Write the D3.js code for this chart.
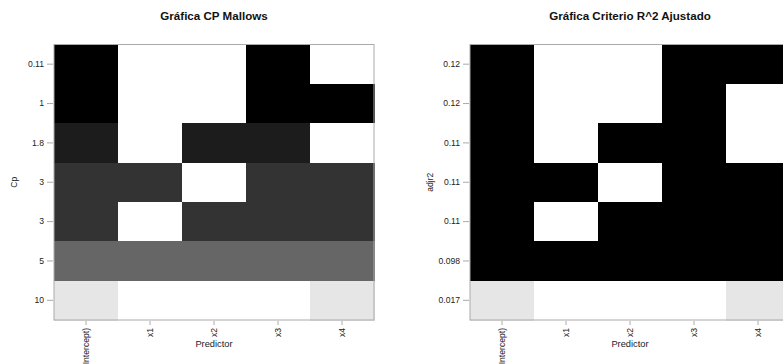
<!DOCTYPE html>
<html>
<head>
<meta charset="utf-8">
<script src="https://cdn.jsdelivr.net/npm/d3@7"></script>
<style>
  body { margin: 0; background: #fff; }
  svg { font-family: "Liberation Sans", Arial, Helvetica, sans-serif; }
</style>
</head>
<body>
<div id="chart"></div>
<script>
// predictors (columns)
var predictors = ["(Intercept)", "x1", "x2", "x3", "x4"];

// Cp Mallows panel: row labels top to bottom, included predictors, grey level per row
var cpLabels = ["0.11", "1", "1.8", "3", "3", "5", "10"];
var cpIncluded = [
    [1, 0, 0, 1, 0],
    [1, 0, 0, 1, 1],
    [1, 0, 1, 1, 0],
    [1, 1, 0, 1, 1],
    [1, 0, 1, 1, 1],
    [1, 1, 1, 1, 1],
    [1, 0, 0, 0, 1]
];
var cpShade = [0, 0, 0.11, 0.2, 0.2, 0.4, 0.9];

// adjusted R^2 panel
var adjLabels = ["0.12", "0.12", "0.11", "0.11", "0.11", "0.098", "0.017"];
var adjIncluded = [
    [1, 0, 0, 1, 1],
    [1, 0, 0, 1, 0],
    [1, 0, 1, 1, 0],
    [1, 1, 0, 1, 1],
    [1, 0, 1, 1, 1],
    [1, 1, 1, 1, 1],
    [1, 0, 0, 0, 1]
];
var adjShade = [0, 0, 0, 0, 0, 0, 0.9];

var W = 783, H = 364;
var svg = d3.select("#chart").append("svg")
    .attr("width", W)
    .attr("height", H);

function drawPanel(left, title, yTitle, labels, included, shade) {
    var top = 44.5, bottom = 320, width = 320;

    var x = d3.scaleBand().domain(predictors).range([left, left + width]);
    var y = d3.scaleBand().domain(d3.range(labels.length)).range([top, bottom]);
    var grey = d3.scaleLinear().domain([0, 1]).range(["#000000", "#ffffff"]);

    var g = svg.append("g");

    // cells
    labels.forEach(function (lab, i) {
        g.selectAll(null)
            .data(included[i].map(function (v, j) { return { p: predictors[j], v: v }; }))
            .enter()
            .append("rect")
            .attr("x", d => x(d.p))
            .attr("y", y(i))
            .attr("width", x.bandwidth() + 0.5)
            .attr("height", y.bandwidth() + 0.5)
            .attr("shape-rendering", "crispEdges")
            .attr("fill", d => d.v ? grey(shade[i]) : "#ffffff");
    });

    // frame
    g.append("rect")
        .attr("x", left)
        .attr("y", top)
        .attr("width", width)
        .attr("height", bottom - top)
        .attr("fill", "none")
        .attr("stroke", "#aaaaaa")
        .attr("stroke-width", 1);

    // y axis
    var yAxis = d3.axisLeft(y).tickSize(6).tickPadding(3)
        .tickFormat(i => labels[i]);
    var ya = g.append("g")
        .attr("transform", "translate(" + (left - 1) + ",0)")
        .call(yAxis);
    ya.select(".domain").remove();
    ya.selectAll("line").attr("stroke", "#aaaaaa");
    ya.selectAll("text").attr("fill", "#222").style("font-size", "8.6px");

    // x axis
    var xAxis = d3.axisBottom(x).tickSize(4).tickPadding(0);
    var xa = g.append("g")
        .attr("transform", "translate(0," + (bottom + 1) + ")")
        .call(xAxis);
    xa.select(".domain").remove();
    xa.selectAll("line").attr("stroke", "#aaaaaa");
    xa.selectAll("text")
        .attr("fill", "#222")
        .style("font-size", "8.6px")
        .attr("text-anchor", "end")
        .attr("dy", "0.33em")
        .attr("x", 0)
        .attr("y", 0)
        .attr("transform", d => "translate(0,7) rotate(-90)");

    // titles
    g.append("text")
        .attr("x", left + width / 2)
        .attr("y", 20)
        .attr("text-anchor", "middle")
        .style("font-size", "11.6px")
        .style("font-weight", "bold")
        .attr("fill", "#111")
        .text(title);

    g.append("text")
        .attr("x", left + width / 2)
        .attr("y", 347)
        .attr("text-anchor", "middle")
        .style("font-size", "9.3px")
        .attr("fill", "#222")
        .text("Predictor");

    g.append("text")
        .attr("transform", "translate(" + (left - 37) + "," + ((top + bottom) / 2) + ") rotate(-90)")
        .attr("text-anchor", "middle")
        .style("font-size", "8.6px")
        .attr("fill", "#222")
        .text(yTitle);
}

drawPanel(54, "Gráfica CP Mallows", "Cp", cpLabels, cpIncluded, cpShade);
drawPanel(470, "Gráfica Criterio R^2 Ajustado", "adjr2", adjLabels, adjIncluded, adjShade);
</script>
</body>
</html>
